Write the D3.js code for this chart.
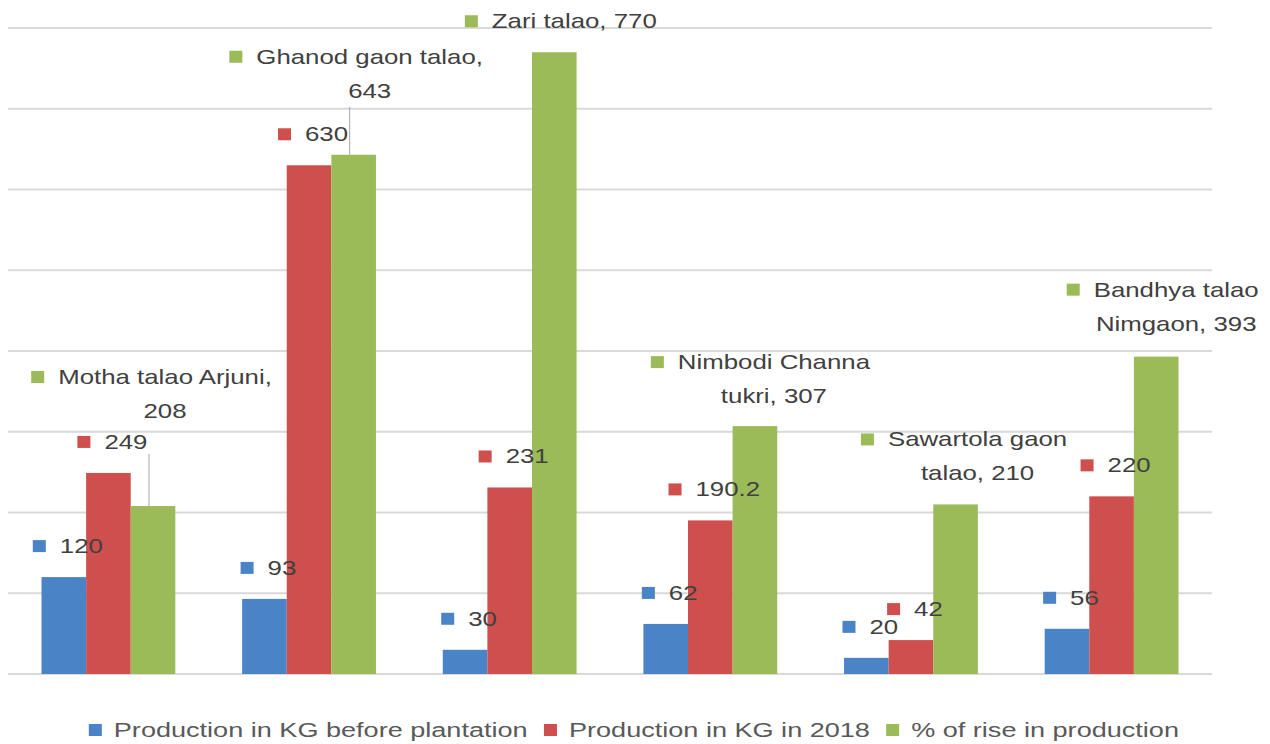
<!DOCTYPE html>
<html>
<head>
<meta charset="utf-8">
<script src="https://cdn.jsdelivr.net/npm/d3@7"></script>
<style>
  body { margin: 0; background: #fff; }
  svg { display: block; font-family: "Liberation Sans", Arial, sans-serif; }
</style>
</head>
<body>
<svg id="chart" width="1270" height="744"></svg>
<script>
// data
const categories = ["Motha talao Arjuni", "Ghanod gaon talao", "Zari talao",
  "Nimbodi Channa tukri", "Sawartola gaon talao", "Bandhya talao Nimgaon"];
const beforeKg = [120, 93, 30, 62, 20, 56];
const kg2018 = [249, 630, 231, 190.2, 42, 220];
const risePct = [208, 643, 770, 307, 210, 393];
const seriesNames = ["Production in KG before plantation", "Production in KG in 2018", "% of rise in production"];
const yTicks = [0, 100, 200, 300, 400, 500, 600, 700, 800];

// layout of the hand-placed green labels
const greenWrap = [3, 3, 0, 2, 2, 2];          // words on first line
const greenDx = [12, 16, 20, 19, 22, 20];
const greenDy = [-129, -98, -31, -64, -65, -67];
// leader line: starts under the red label, under the green label, or none
const greenLeader = ["red", "label", null, null, null, null];

const colors = ["#4a84c6", "#cf4f4c", "#9bbb59"];
const S = 1.29; // the picture is stretched sideways
const svg = d3.select("#chart");
const width = 1270;

svg.append("rect").attr("width", width).attr("height", 744).attr("fill", "#fff");

const x = d3.scaleBand().domain(categories).range([8, 1212])
  .paddingInner(0.333).paddingOuter(0.167);
const xs = d3.scaleBand().domain(d3.range(3)).range([0, x.bandwidth()]);
const y = d3.scaleLinear().domain([0, 800]).range([674, 28]);

// gridlines
svg.append("g")
  .selectAll("line")
  .data(yTicks)
  .join("line")
  .attr("x1", x.range()[0]).attr("x2", x.range()[1])
  .attr("y1", d => y(d)).attr("y2", d => y(d))
  .attr("stroke", "#d9d9d9")
  .attr("stroke-width", 2);

const series = [beforeKg, kg2018, risePct];

// bars
series.forEach((vals, si) => {
  svg.append("g")
    .selectAll("rect")
    .data(vals)
    .join("rect")
    .attr("x", (d, i) => x(categories[i]) + xs(si))
    .attr("y", d => y(d))
    .attr("width", xs.bandwidth())
    .attr("height", d => y(0) - y(d))
    .attr("fill", colors[si]);
});

// stretched text helper
function stext(parent, tx, ty, str, anchor, fill, size) {
  const g = parent.append("g").attr("transform", `translate(${tx},${ty})`);
  const t = g.append("text")
    .attr("transform", `scale(${S},1)`)
    .attr("text-anchor", anchor || "start")
    .attr("font-size", size || 20)
    .attr("fill", fill || "#404040")
    .text(str);
  return t.node().getComputedTextLength() * S;
}

function measure(str, size) {
  const t = svg.append("text").attr("font-size", size || 20).text(str);
  const w = t.node().getComputedTextLength() * S;
  t.remove();
  return w;
}

const keyW = 13, keyH = 12, keyGap = 14;
const labels = svg.append("g");
const labelY = [[], []];

// blue and red value labels
[0, 1].forEach(si => {
  series[si].forEach((v, i) => {
    const cx = x(categories[i]) + xs(si) + xs.bandwidth() / 2 + 4;
    const cy = y(v) - 31;
    const str = String(v);
    const w = measure(str);
    const left = cx - (keyW + keyGap + w) / 2;
    labels.append("rect")
      .attr("x", left).attr("y", cy - keyH / 2)
      .attr("width", keyW).attr("height", keyH)
      .attr("fill", colors[si]);
    stext(labels, left + keyW + keyGap, cy + 7, str);
    labelY[si][i] = cy;
  });
});

// green labels with the category name
risePct.forEach((v, i) => {
  const barCx = x(categories[i]) + xs(2) + xs.bandwidth() / 2;
  const cx = barCx + greenDx[i];
  const cy = y(v) + greenDy[i];
  const words = `${categories[i]}, ${v}`.split(" ");
  const lines = greenWrap[i] ? [words.slice(0, greenWrap[i]).join(" "), words.slice(greenWrap[i]).join(" ")]
    : [words.join(" ")];
  lines.forEach((ln, li) => {
    const w = stext(labels, cx, cy + li * 34 + 7, ln, "middle");
    if (li === 0) {
      labels.append("rect")
        .attr("x", cx - w / 2 - keyGap - keyW).attr("y", cy - keyH / 2)
        .attr("width", keyW).attr("height", keyH)
        .attr("fill", colors[2]);
    }
  });
  if (greenLeader[i]) {
    const lx = barCx - 4;
    const top = greenLeader[i] === "red"
      ? labelY[1][i] + 12
      : cy + (lines.length - 1) * 34 + 16;
    labels.append("line")
      .attr("x1", lx).attr("x2", lx)
      .attr("y1", top).attr("y2", y(v))
      .attr("stroke", "#a6a6a6").attr("stroke-width", 1);
  }
});

// legend
const legendSize = 21;
const legend = svg.append("g");
const itemW = seriesNames.map(n => keyW + 12 + measure(n, legendSize));
const total = d3.sum(itemW) + 16 * (seriesNames.length - 1);
let lx = 634 - total / 2;
const ly = 730;
seriesNames.forEach((n, i) => {
  legend.append("rect")
    .attr("x", lx).attr("y", ly - keyH / 2)
    .attr("width", keyW).attr("height", keyH)
    .attr("fill", colors[i]);
  stext(legend, lx + keyW + 12, ly + 7, n, "start", "#595959", legendSize);
  lx += itemW[i] + 16;
});
</script>
</body>
</html>
